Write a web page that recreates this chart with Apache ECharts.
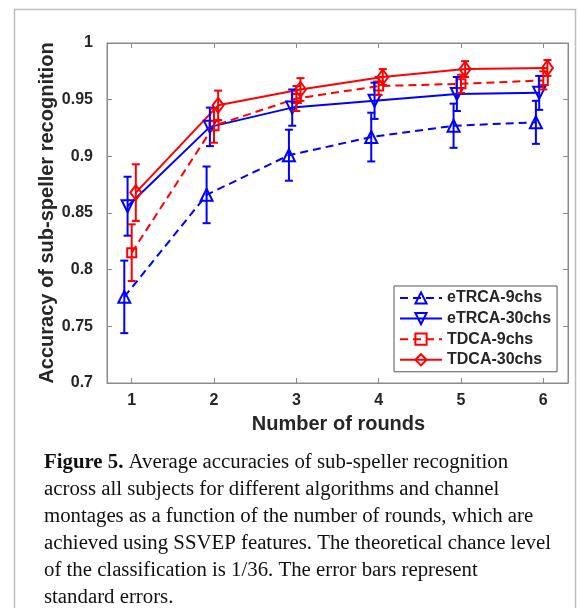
<!DOCTYPE html>
<html>
<head>
<meta charset="utf-8">
<script src="https://cdn.jsdelivr.net/npm/echarts@6/dist/echarts.min.js"></script>
<style>
html,body{margin:0;padding:0;background:#fff;}
#chart{width:579px;height:608px;}
</style>
</head>
<body>
<div id="chart"></div>
<script>
// ---- data ----
const rounds = [1, 2, 3, 4, 5, 6];
const xTicks = [1, 2, 3, 4, 5, 6];
const eTRCA9 = [0.776, 0.866, 0.901, 0.917, 0.927, 0.930];
const eTRCA9Err = [0.032, 0.025, 0.0225, 0.0215, 0.0195, 0.019];
const eTRCA30 = [0.856, 0.926, 0.943, 0.949, 0.955, 0.956];
const eTRCA30Err = [0.026, 0.017, 0.016, 0.016, 0.015, 0.015];
const TDCA9 = [0.815, 0.927, 0.951, 0.962, 0.964, 0.967];
const TDCA9Err = [0.025, 0.015, 0.011, 0.008, 0.008, 0.008];
const TDCA30 = [0.868, 0.945, 0.959, 0.970, 0.977, 0.978];
const TDCA30Err = [0.025, 0.013, 0.010, 0.007, 0.007, 0.007];
const seriesNames = ['eTRCA-9chs', 'eTRCA-30chs', 'TDCA-9chs', 'TDCA-30chs'];
const xTitle = 'Number of rounds';
const yTitle = 'Accuracy of sub-speller recognition';
const captionBold = 'Figure 5.';
const captionLines = [
  ' Average accuracies of sub-speller recognition',
  'across all subjects for different algorithms and channel',
  'montages as a function of the number of rounds, which are',
  'achieved using SSVEP features. The theoretical chance level',
  'of the classification is 1/36. The error bars represent',
  'standard errors.'
];

// ---- styles ----
const BLUE = '#0000ff', RED = '#ff0000';
const FONT = '"Liberation Sans", Arial, sans-serif';
const SERIF = '"Liberation Serif", "Times New Roman", serif';
const TXT = '#262626';
const FRAME = '#8a8a8a';
const defs = [
  {name: seriesNames[0], mean: eTRCA9, err: eTRCA9Err, color: BLUE, dash: [8, 5], symbol: 'triangle', rot: 0, size: 12, off: -0.09},
  {name: seriesNames[1], mean: eTRCA30, err: eTRCA30Err, color: BLUE, dash: 'solid', symbol: 'triangle', rot: 180, size: 12, off: -0.05},
  {name: seriesNames[2], mean: TDCA9, err: TDCA9Err, color: RED, dash: [8, 5], symbol: 'rect', rot: 0, size: 9, off: 0},
  {name: seriesNames[3], mean: TDCA30, err: TDCA30Err, color: RED, dash: 'solid', symbol: 'diamond', rot: 0, size: [11, 15], off: 0.05}
];

const series = [];
defs.forEach(d => {
  series.push({
    name: d.name,
    type: 'line',
    data: rounds.map((r, i) => [r + d.off, d.mean[i]]),
    symbol: d.symbol,
    symbolSize: d.size,
    symbolRotate: d.rot,
    showAllSymbol: true,
    lineStyle: {color: d.color, width: 2, type: d.dash},
    itemStyle: {color: 'rgba(255,255,255,0)', borderColor: d.color, borderWidth: 2},
    emphasis: {disabled: true},
    animation: false,
    z: 3
  });
  series.push({
    name: d.name + ' err',
    type: 'custom',
    data: rounds.map((r, i) => [r + d.off, d.mean[i], d.err[i]]),
    renderItem: function (params, api) {
      const x = api.value(0), y = api.value(1), e = api.value(2);
      const t = api.coord([x, y + e]), b = api.coord([x, y - e]);
      const hw = 4;
      const st = {stroke: d.color, lineWidth: 2};
      return {type: 'group', children: [
        {type: 'line', shape: {x1: t[0], y1: t[1], x2: b[0], y2: b[1]}, style: st},
        {type: 'line', shape: {x1: t[0] - hw, y1: t[1], x2: t[0] + hw, y2: t[1]}, style: st},
        {type: 'line', shape: {x1: b[0] - hw, y1: b[1], x2: b[0] + hw, y2: b[1]}, style: st}
      ]};
    },
    animation: false,
    silent: true,
    z: 4
  });
});

const tickLabel = {fontFamily: FONT, fontWeight: 'bold', fontSize: 16, color: TXT};

const option = {
  backgroundColor: '#fff',
  animation: false,
  grid: {left: 107, right: 11, top: 43, bottom: 225, show: true, borderColor: FRAME, borderWidth: 1, backgroundColor: '#fff'},
  xAxis: [
    {type: 'value', min: 0.7, max: 6.3, position: 'bottom',
     axisLine: {show: true, lineStyle: {color: FRAME}},
     axisTick: {show: true, inside: true, length: 5, lineStyle: {color: FRAME}, customValues: xTicks},
     axisLabel: Object.assign({margin: 10, customValues: xTicks, formatter: v => String(v)}, tickLabel),
     splitLine: {show: false}},
    {type: 'value', min: 0.7, max: 6.3, position: 'top',
     axisLine: {show: true, lineStyle: {color: FRAME}},
     axisTick: {show: true, inside: true, length: 5, lineStyle: {color: FRAME}, customValues: xTicks},
     axisLabel: {show: false}, splitLine: {show: false}}
  ],
  yAxis: [
    {type: 'value', min: 0.7, max: 1, interval: 0.05, position: 'left',
     axisLine: {show: true, lineStyle: {color: FRAME}},
     axisTick: {show: true, inside: true, length: 5, lineStyle: {color: FRAME}},
     axisLabel: Object.assign({margin: 14}, tickLabel),
     splitLine: {show: false}},
    {type: 'value', min: 0.7, max: 1, interval: 0.05, position: 'right',
     axisLine: {show: true, lineStyle: {color: FRAME}},
     axisTick: {show: true, inside: true, length: 5, lineStyle: {color: FRAME}},
     axisLabel: {show: false}, splitLine: {show: false}}
  ],
  legend: {
    data: seriesNames,
    orient: 'vertical',
    left: 394, top: 286,
    padding: [3, 6, 3, 5],
    itemGap: 2.6,
    itemWidth: 42, itemHeight: 14,
    itemTextGap: 4,
    borderColor: '#555', borderWidth: 1, backgroundColor: '#fff',
    textStyle: {fontFamily: FONT, fontWeight: 'bold', fontSize: 16, color: TXT, lineHeight: 18},
    selectedMode: false
  },
  series: series,
  graphic: [
    {type: 'rect', shape: {x: 14.5, y: 9.5, width: 561, height: 640}, style: {fill: 'none', stroke: '#bdbdbd', lineWidth: 1.5}, z: 0, silent: true},
    {type: 'text', x: 338.5, y: 424, style: {text: xTitle, font: 'bold 20px ' + FONT, fill: TXT, textAlign: 'center', textVerticalAlign: 'middle'}, z: 10},
    {type: 'text', x: 47, y: 213, rotation: Math.PI / 2, style: {text: yTitle, font: 'bold 20px ' + FONT, fill: TXT, textAlign: 'center', textVerticalAlign: 'middle'}, z: 10},
    {type: 'text', x: 44, y: 449.5, style: {
      text: '{b|' + captionBold + '}' + captionLines.join('\n'),
      fontFamily: SERIF, fontSize: 20.8, lineHeight: 27, fill: '#111',
      rich: {b: {fontFamily: SERIF, fontWeight: 'bold', fontSize: 20.8, lineHeight: 27, fill: '#111'}},
      textVerticalAlign: 'top'
    }, z: 10}
  ]
};

const chart = echarts.init(document.getElementById('chart'), null, {renderer: 'canvas'});
chart.setOption(option);
</script>
</body>
</html>
